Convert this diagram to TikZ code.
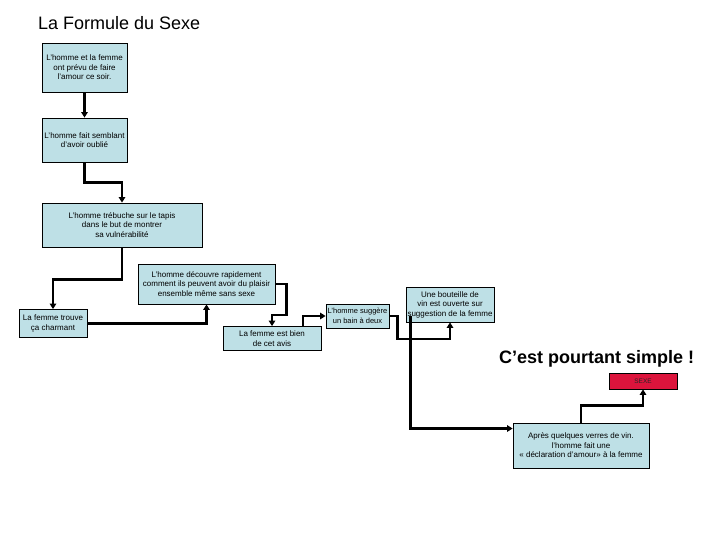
\documentclass[tikz,border=0pt]{standalone}
\usepackage{fontspec}
\setmainfont{Liberation Sans}
\usetikzlibrary{arrows.meta,calc}
\definecolor{boxblue}{RGB}{190,224,230}
\definecolor{sexred}{RGB}{220,20,60}
\tikzset{
  box/.style={draw, rectangle, fill=boxblue, align=center, font=\fontsize{8}{9.5}\selectfont, inner sep=1pt, line width=0.8pt},
  hot/.style={draw, rectangle, fill=sexred, align=center, font=\fontsize{6.5}{7}\selectfont, text=black!85, inner sep=1pt, line width=0.8pt},
  arr/.style={-{Triangle[length=5.5pt,width=6.5pt]}, line width=2.6pt},
  ttl/.style={font=\fontsize{18}{21}\selectfont, anchor=base west, inner sep=0pt},
  slogan/.style={font=\bfseries\fontsize{18}{21}\selectfont, anchor=base west, inner sep=0pt},
}

\begin{document}
\begin{tikzpicture}[x=1pt,y=-1pt]
\useasboundingbox (0,0) rectangle (720,540);
\node[ttl] (title) at (38,30) {La Formule du Sexe};
\node[box, minimum width=85, minimum height=49] (b1) at (84.5,67.5) {L'homme et la femme\\ont prévu de faire\\l'amour ce soir.};
\node[box, minimum width=85, minimum height=44] (b2) at (84.5,140) {L'homme fait semblant\\d'avoir oublié};
\node[box, minimum width=160, minimum height=44] (b3) at (122,225) {L'homme trébuche sur le tapis\\dans le but de montrer\\sa vulnérabilité};
\node[box, minimum width=137, minimum height=40] (b4) at (206.5,284) {L'homme découvre rapidement\\comment ils peuvent avoir du plaisir\\ensemble même sans sexe};
\node[box, minimum width=68, minimum height=28] (b5) at (53,323.5) {La femme trouve\\ça charmant};
\node[box, minimum width=98, minimum height=24] (b6) at (272,338.5) {La femme est bien\\de cet avis};
\node[box, minimum width=63, minimum height=24, font=\fontsize{7.5}{9.5}\selectfont] (b7) at (357.5,316) {L'homme suggère\\un bain à deux};
\node[box, minimum width=88, minimum height=35] (b8) at (450,304.5) {Une bouteille de\\vin est ouverte sur\\suggestion de la femme};
\node[slogan] (simple) at (499,363) {C’est pourtant simple !};
\node[hot, minimum width=68, minimum height=16] (sexe) at (643,381) {SEXE};
\node[box, minimum width=136, minimum height=45] (b10) at (581,445.5) {Après quelques verres de vin.\\l'homme fait une\\« déclaration d'amour» à la femme};
% connectors
\draw[arr] (b1.south) -- (b2.north);
\draw[arr] (b2.south) -- ++(0,20) -| (b3.north);
\draw[arr] (b3.south) -- ++(0,32) -| (b5.north);
\draw[arr] (b5.east) -| (b4.south);
\draw[arr] (b4.east) -- ++(11,0) -- ++(0,31) -| (b6.north);
\draw[arr] ($(b6.north)+(31,0)$) |- (b7.west);
\draw[arr] (b7.east) -- ++(8,0) -- ++(0,23) -| (b8.south);
\draw[arr] ($(b8.south west)+(5,-6)$) |- ($(b10.west)+(0,-17)$);
\draw[arr] (b10.north) -- ++(0,-17) -| (sexe.south);
\end{tikzpicture}
\end{document}
